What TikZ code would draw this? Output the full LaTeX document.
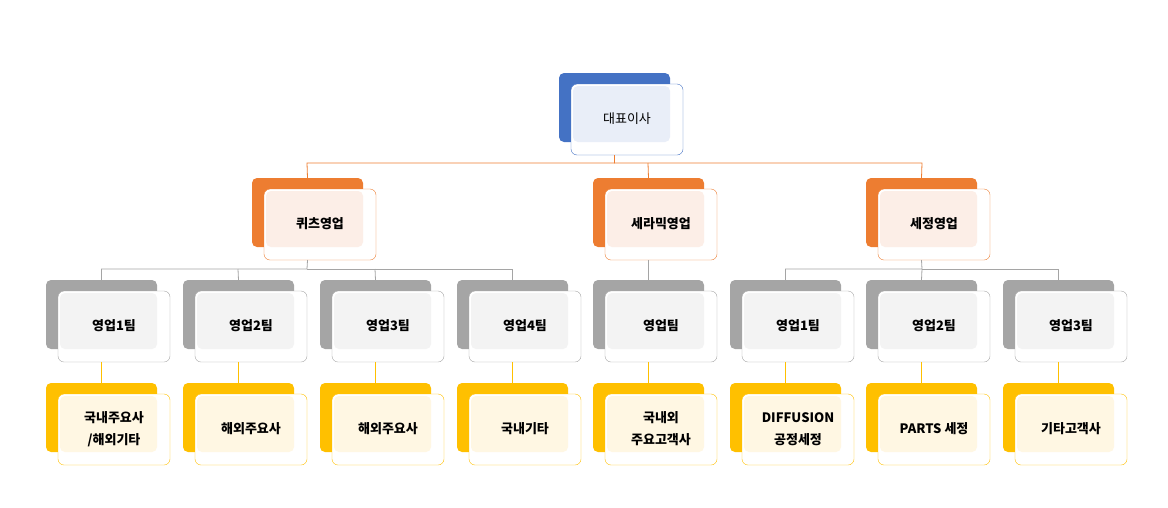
\documentclass[tikz,border=0pt]{standalone}
\usepackage{fontspec}
\setmainfont{Noto Sans CJK KR}
\usetikzlibrary{positioning}
\definecolor{cblue}{HTML}{4472C4}\definecolor{tblue}{HTML}{E9EEF8}
\definecolor{corange}{HTML}{ED7D31}\definecolor{torange}{HTML}{FCEEE7}
\definecolor{cgray}{HTML}{A5A5A5}\definecolor{tgray}{HTML}{F3F3F3}
\definecolor{cyellow}{HTML}{FFC000}\definecolor{tyellow}{HTML}{FFF7E3}
% back box, front box, tinted inside, text
\newcommand{\orgbox}[6]{%
  \fill[#4,rounded corners=5pt] (#2,#3) rectangle ++(111,69);
  \draw[#4,fill=white,rounded corners=6pt] (#2+12,#3+11) rectangle ++(112,71);
  \fill[#5,rounded corners=5pt] (#2+14,#3+13) rectangle (#2+111,#3+69);
  \node[box text] (#1) at (#2+68,#3+46) {#6};
  \coordinate (#1-top) at (#2+55.5,#3);
  \coordinate (#1-bot) at (#2+55.5,#3+82);}
\begin{document}
\begin{tikzpicture}[x=1pt,y=-1pt,box text/.style={align=center,font=\fontsize{13}{22}\selectfont\bfseries},
  link/.style={line width=0.8pt}]
\useasboundingbox (0,0) rectangle (1168,507);
\orgbox{CEO}{559}{73}{cblue}{tblue}{\mdseries 대표이사}
\orgbox{QZ}{252}{178}{corange}{torange}{퀴츠영업}
\orgbox{CR}{593}{178}{corange}{torange}{세라믹영업}
\orgbox{CL}{866}{178}{corange}{torange}{세정영업}
\foreach \n/\x/\t in {T1/46/영업1팀, T2/183/영업2팀, T3/320/영업3팀, T4/457/영업4팀,
  T5/593/영업팀, T6/730/영업1팀, T7/866/영업2팀, T8/1003/영업3팀}
  {\orgbox{\n}{\x}{280}{cgray}{tgray}{\t}}
\foreach \n/\x/\t in {C1/46/{국내주요사\\/해외기타}, C2/183/해외주요사, C3/320/해외주요사,
  C4/457/국내기타, C5/593/{국내외\\주요고객사}, C6/730/{DIFFUSION\\공정세정},
  C7/866/PARTS 세정, C8/1003/기타고객사}
  {\orgbox{\n}{\x}{383}{cyellow}{tyellow}{\t}}
% connectors
\draw[link,corange] (CEO-bot) |- (307,163) -- (QZ-top);
\draw[link,corange] (CEO-bot) |- (922,163) -- (CL-top);
\draw[link,corange] (648,163) -- (CR-top);
\draw[link,cgray] (QZ-bot) -- (307,269) -| (T1-top);
\draw[link,cgray] (307,269) -| (T4-top);
\draw[link,cgray] (238,269) -- (T2-top);
\draw[link,cgray] (375,269) -- (T3-top);
\draw[link,cgray] (CR-bot) -- (T5-top);
\draw[link,cgray] (CL-bot) -- (922,269) -| (T6-top);
\draw[link,cgray] (922,269) -| (T8-top);
\draw[link,cgray] (922,269) -- (T7-top);
\foreach \i in {1,...,8}
  \draw[link,cyellow] (T\i-bot) -- (C\i-top);
\end{tikzpicture}
\end{document}
